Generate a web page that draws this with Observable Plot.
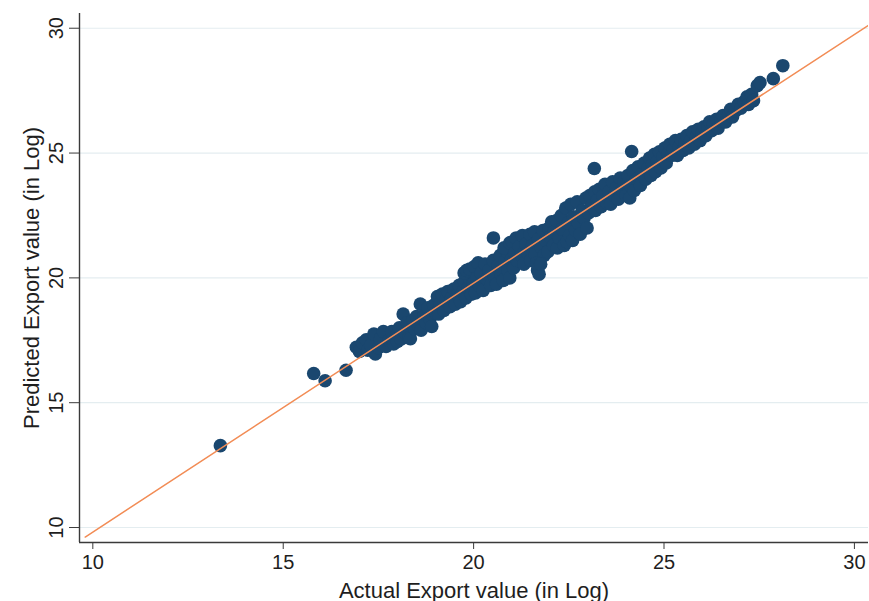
<!DOCTYPE html>
<html>
<head>
<meta charset="utf-8">
<script src="https://cdn.jsdelivr.net/npm/d3@7"></script>
<script src="https://cdn.jsdelivr.net/npm/@observablehq/plot@0.6"></script>
<style>
  html, body { margin: 0; padding: 0; background: #fff; }
  svg { display: block; }
</style>
</head>
<body>
<div id="chart"></div>
<script>
// Actual vs predicted export values (in log)
const actual = [
  13.35, 15.8, 16.1, 16.65,
  16.92, 17.0, 17.08, 17.18, 17.22, 17.3, 17.38, 17.42, 17.5, 17.55, 17.63, 17.7, 17.78, 17.85, 17.9, 17.98, 18.0,
  18.05, 18.1, 18.15, 18.2, 18.25, 18.3, 18.34, 18.4, 18.45, 18.5, 18.55, 18.6, 18.62, 18.7, 18.75, 18.8, 18.85, 18.9, 18.95, 19.0,
  19.05, 19.08, 19.12, 19.18, 19.22, 19.28, 19.32, 19.38, 19.42, 19.48, 19.52, 19.58, 19.62, 19.66, 19.72, 19.76, 19.8, 19.85, 19.9, 19.94, 19.98, 19.75, 19.82, 19.9,
  20.02, 20.05, 20.08, 20.12, 20.15, 20.2, 20.25, 20.3, 20.35, 20.4, 20.45, 20.52, 20.52, 20.55, 20.6, 20.65, 20.7, 20.72, 20.78, 20.82, 20.88, 20.9, 20.95, 21.0, 20.8, 20.95,
  21.02, 21.05, 21.08, 21.12, 21.15, 21.2, 21.25, 21.28, 21.32, 21.38, 21.42, 21.48, 21.5, 21.55, 21.6, 21.62, 21.68, 21.7, 21.72, 21.78, 21.82, 21.85, 21.9, 21.95, 21.98, 21.65, 21.76,
  22.02, 22.05, 22.1, 22.12, 22.18, 22.2, 22.25, 22.3, 22.32, 22.38, 22.42, 22.45, 22.48, 22.52, 22.55, 22.6, 22.62, 22.68, 22.72, 22.75, 22.8, 22.85, 22.9, 22.95, 22.98,
  23.02, 23.05, 23.1, 23.17, 23.18, 23.2, 23.25, 23.3, 23.35, 23.4, 23.45, 23.5, 23.55, 23.6, 23.65, 23.7, 23.75, 23.8, 23.85, 23.9, 23.95,
  24.0, 24.05, 24.1, 24.12, 24.15, 24.18, 24.22, 24.28, 24.32, 24.38, 24.42, 24.48, 24.52, 24.58, 24.62, 24.66, 24.7, 24.75, 24.78, 24.82, 24.88, 24.92, 24.97,
  25.02, 25.06, 25.1, 25.15, 25.2, 25.25, 25.3, 25.35, 25.4, 25.45, 25.5, 25.55, 25.6, 25.65, 25.7, 25.75, 25.8, 25.85, 25.9, 25.95,
  26.0, 26.05, 26.1, 26.15, 26.2, 26.25, 26.3, 26.38, 26.42, 26.5, 26.55, 26.62, 26.7, 26.75, 26.8, 26.88, 26.95,
  27.02, 27.1, 27.18, 27.22, 27.3, 27.35, 27.45, 27.52, 27.87, 28.12
];
const predicted = [
  13.28, 16.17, 15.88, 16.3,
  17.22, 17.05, 17.4, 17.52, 17.1, 17.3, 17.75, 16.95, 17.2, 17.55, 17.85, 17.25, 17.5, 17.85, 17.35, 17.7, 17.45,
  18.0, 17.55, 18.55, 17.8, 18.2, 17.6, 17.56, 18.3, 17.95, 18.45, 18.1, 18.95, 17.9, 18.5, 18.2, 18.8, 18.35, 18.05, 18.9, 18.6,
  19.25, 18.55, 18.95, 19.35, 18.7, 19.1, 19.45, 18.85, 19.2, 19.55, 18.95, 19.35, 19.7, 19.05, 19.45, 19.85, 19.2, 19.6, 19.95, 19.35, 19.75, 20.2, 20.3, 20.35,
  20.45, 19.4, 20.0, 20.6, 19.7, 20.2, 19.5, 20.55, 19.95, 20.3, 19.7, 21.6, 20.7, 20.05, 19.75, 20.5, 20.9, 20.15, 19.9, 20.65, 21.05, 20.3, 20.0, 20.75, 21.2, 21.4,
  21.45, 20.4, 21.0, 21.6, 20.7, 21.25, 20.9, 21.7, 20.55, 21.35, 21.0, 21.75, 20.7, 21.3, 21.85, 20.95, 20.3, 21.55, 20.15, 21.2, 21.9, 20.9, 21.5, 21.05, 22.0, 20.6, 20.55,
  21.65, 22.25, 21.3, 21.85, 22.3, 21.2, 21.6, 22.5, 21.95, 21.3, 22.8, 21.45, 22.2, 21.7, 22.95, 21.5, 22.45, 21.9, 23.05, 22.2, 21.75, 22.7, 22.4, 23.2, 22.0,
  22.6, 23.3, 22.9, 24.38, 23.45, 22.7, 23.1, 23.55, 22.85, 23.3, 23.75, 23.0, 23.45, 22.95, 23.85, 23.3, 23.6, 23.15, 24.0, 23.5, 23.85,
  23.3, 24.1, 23.2, 23.7, 25.06, 24.3, 23.5, 23.95, 24.45, 23.7, 24.15, 24.6, 23.95, 24.4, 24.8, 24.1, 24.55, 24.95, 24.25, 24.65, 25.05, 24.4, 24.85,
  25.2, 24.6, 24.95, 25.35, 24.9, 25.15, 25.5, 24.9, 25.25, 25.55, 25.1, 25.4, 25.7, 25.2, 25.5, 25.85, 25.35, 25.65, 25.95, 25.5,
  25.8, 26.05, 25.7, 26.0, 26.25, 25.9, 26.15, 26.35, 26.0, 26.3, 26.5, 26.25, 26.55, 26.75, 26.45, 26.7, 26.95,
  26.8, 27.05, 27.25, 26.95, 27.35, 27.1, 27.7, 27.82, 27.98, 28.5
];

// Fitted line endpoints
const lineActual = [9.8, 30.37];
const linePredicted = [9.62, 30.12];

// Axis ticks
const xTicks = [10, 15, 20, 25, 30];
const yTicks = [10, 15, 20, 25, 30];
const xDomain = [9.65, 30.37];
const yDomain = [9.40, 30.59];

const xTitle = "Actual Export value (in Log)";
const yTitle = "Predicted Export value (in Log)";

const points = actual.map((a, i) => ({actual: a, predicted: predicted[i]}));
const fitLine = lineActual.map((a, i) => ({actual: a, predicted: linePredicted[i]}));

const textColor = "#1e1e1e";
const axisColor = "#3a3a3a";

const chart = Plot.plot({
  width: 869,
  height: 601,
  marginLeft: 79,
  marginRight: 1,
  marginTop: 13,
  marginBottom: 59,
  style: {fontFamily: "'Liberation Sans', Arial, sans-serif", background: "#fff", color: textColor},
  x: {domain: xDomain},
  y: {domain: yDomain},
  marks: [
    Plot.gridY(yTicks, {stroke: "#e4edf0", strokeOpacity: 1, strokeWidth: 1.2}),
    Plot.dot(points, {x: "actual", y: "predicted", r: 6.8, fill: "#1a476f", stroke: "none"}),
    Plot.line(fitLine, {x: "actual", y: "predicted", stroke: "#f28c55", strokeWidth: 1.5, clip: true}),
    Plot.ruleX([xDomain[0]], {stroke: axisColor, strokeWidth: 1.4}),
    Plot.ruleY([yDomain[0]], {stroke: axisColor, strokeWidth: 1.4}),
    Plot.axisX(xTicks, {tickSize: 7, tickPadding: 5, fontSize: 20, label: null, stroke: axisColor, fill: textColor}),
    Plot.axisY(yTicks, {tickSize: 10, tickFormat: () => "", label: null, stroke: axisColor}),
    Plot.text(yTicks, {y: d => d, frameAnchor: "left", dx: -17, rotate: -90, text: d => String(d), fontSize: 20, lineAnchor: "bottom", textAnchor: "middle", fill: textColor}),
    Plot.text([xTitle], {frameAnchor: "bottom", dy: 55, lineAnchor: "bottom", textAnchor: "middle", fontSize: 22, fill: textColor}),
    Plot.text([yTitle], {frameAnchor: "left", dx: -41, rotate: -90, lineAnchor: "bottom", textAnchor: "middle", fontSize: 22, fill: textColor})
  ]
});

document.getElementById("chart").appendChild(chart);
</script>
</body>
</html>
